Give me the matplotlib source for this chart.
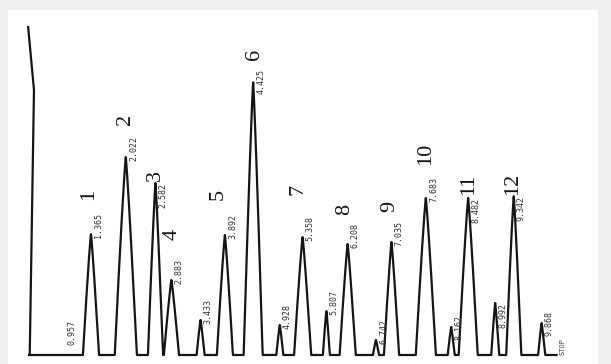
import numpy as np
import matplotlib
matplotlib.use("Agg")
import matplotlib.pyplot as plt
from matplotlib.patches import Rectangle

# retention times (min), peak heights (detector units) and half base widths (min)
ret_times = [1.365, 2.022, 2.582, 2.883, 3.433, 3.892, 4.425, 4.928, 5.358,
             5.807, 6.208, 6.742, 7.035, 7.683, 8.162, 8.482, 8.992, 9.342, 9.868]
heights = [121, 198, 172, 75, 35, 120, 273, 30, 118,
           44, 111, 15, 113, 157, 28, 157, 52, 159, 32]
half_widths = [0.151, 0.208, 0.142, 0.142, 0.075, 0.151, 0.179, 0.066, 0.160,
               0.066, 0.151, 0.057, 0.142, 0.189, 0.066, 0.179, 0.075, 0.142, 0.066]
rt_labels = ["1.365", "2.022", "2.582", "2.883", "3.433", "3.892", "4.425", "4.928", "5.358",
             "5.807", "6.208", "6.742", "7.035", "7.683", "8.162", "8.482", "8.992", "9.342", "9.868"]

# numbered compounds: index into the peak lists -> compound number
compound_idx = [0, 1, 2, 3, 5, 6, 8, 10, 12, 13, 15, 17]
compound_no = ["1", "2", "3", "4", "5", "6", "7", "8", "9", "10", "11", "12"]

# solvent front (off scale) and the injection mark
solvent_t = [0.20, 0.21, 0.29, 0.18]
solvent_h = [0, 0, 265, 328]
inj_time, inj_label = 0.957, "0.957"
stop_time = 10.15

# where the printed times and compound numbers sit relative to each apex
rt_va = ["bottom", "bottom", "top", "bottom", "bottom", "bottom", "center", "bottom", "bottom",
         "bottom", "bottom", "bottom", "bottom", "bottom", "center", "top", "top", "top", "center"]
no_offset = [34, 32, 2, 40, 35, 22, 42, 29, 30, 33, 3, 1]
no_shift = [-0.05, 0.0, 0.0, 0.02, -0.12, 0.03, -0.09, -0.05, -0.03, 0.0, 0.0, -0.02]

t = np.linspace(0.2, stop_time, 8000)
signal = np.zeros_like(t)
for rt, h, w in zip(ret_times, heights, half_widths):
    d = np.abs(t - rt) / w
    signal += np.where(d < 1, h * (1 - d ** 1.15), 0)

fig = plt.figure(figsize=(6.11, 3.64), dpi=100, facecolor="#efefef")
fig.patches.append(Rectangle((8 / 611, 0), 590 / 611, 354 / 364, transform=fig.transFigure,
                             facecolor="white", edgecolor="none", zorder=-5))
ax = fig.add_axes([0, 0, 1, 1], zorder=2)
ax.set_xlim(-0.351, 11.177)
ax.set_ylim(-9, 355)
ax.axis("off")
ax.patch.set_alpha(0)

ink = "#151515"
ax.plot(solvent_t, solvent_h, color=ink, lw=1.6, solid_joinstyle="round")
ax.plot(t, signal, color=ink, lw=1.6, solid_joinstyle="round")

# retention time printed next to each apex
for rt, h, lab, va in zip(ret_times, heights, rt_labels, rt_va):
    y = h - 4 if va == "bottom" else h
    ax.text(rt + 0.06, y, lab, rotation=90, ha="left", va=va,
            fontsize=6, color="#333333", family="DejaVu Sans Mono")
ax.text(inj_time - 0.04, 10, inj_label, rotation=90, ha="left", va="bottom",
        fontsize=6, color="#333333", family="DejaVu Sans Mono")
ax.text(stop_time + 0.05, 0, "STOP", rotation=90, ha="left", va="bottom",
        fontsize=5, color="#444444", family="DejaVu Sans Mono")

# compound numbers
for i, no, off, sh in zip(compound_idx, compound_no, no_offset, no_shift):
    ax.text(ret_times[i] + sh, heights[i] + off, no, rotation=90, ha="center", va="bottom",
            fontsize=16, color=ink, family="Liberation Serif")

fig.savefig("out.png", dpi=100, facecolor=fig.get_facecolor())
